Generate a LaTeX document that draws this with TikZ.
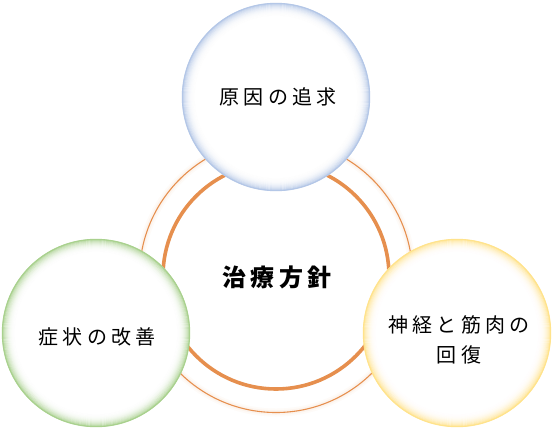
\documentclass[tikz,border=0pt]{standalone}
\usepackage{fontspec}
\newfontfamily\jp[LetterSpace=21]{Noto Sans CJK JP}
\newfontfamily\jpc[LetterSpace=17]{Noto Sans CJK JP}
\definecolor{ringorange}{HTML}{E68F4E}
\definecolor{cblue}{HTML}{B4C7E7}
\definecolor{cgreen}{HTML}{A9D18E}
\definecolor{cyellow}{HTML}{FFE38C}
\newcommand\glowring[2]{%
  \foreach \i in {0,...,13}{%
    \pgfmathsetmacro\op{0.85*(1-\i/14)^3}%
    \draw[#2, line width=1.1pt, opacity=\op] (#1.center) circle[radius=93.4-\i];
  }%
  \draw[#2, line width=1.2pt] (#1.center) circle[radius=93.6];
}
\tikzset{
  bubble/.style={circle, minimum size=188pt, inner sep=0pt, fill=white},
  bubbletext/.style={font=\jp\fontsize{20}{30}\selectfont, align=center, inner sep=0pt},
}
\begin{document}
\begin{tikzpicture}[x=1pt,y=-1pt]
\useasboundingbox (0,0) rectangle (553,429);
\fill[white] (0,0) rectangle (553,429);
% central circle
\node[circle, minimum size=226pt, inner sep=0pt, draw=ringorange, line width=3.6pt] (center) at (276,276) {};
\node[font=\jpc\bfseries\fontsize{24}{24}\selectfont, inner sep=0pt] (centertext) at (277,277) {治療方針};
% outer ring with soft glow
\draw[ringorange, opacity=0.035, line width=8pt] (center.center) circle[radius=136.5];
\draw[ringorange, opacity=0.06, line width=4.5pt] (center.center) circle[radius=136.5];
\draw[ringorange, line width=1.1pt] (center.center) circle[radius=136.5];
% satellites
\node[bubble] (top) at (276,97) {};
\glowring{top}{cblue}
\node[bubble] (left) at (96,333) {};
\glowring{left}{cgreen}
\node[bubble] (right) at (457,333) {};
\glowring{right}{cyellow}
\node[bubbletext] (toptext) at (278,97) {原因の追求};
\node[bubbletext] (lefttext) at (97,337) {症状の改善};
\node[bubbletext] (righttext) at (459,340) {神経と筋肉の\\回復};
\end{tikzpicture}
\end{document}
